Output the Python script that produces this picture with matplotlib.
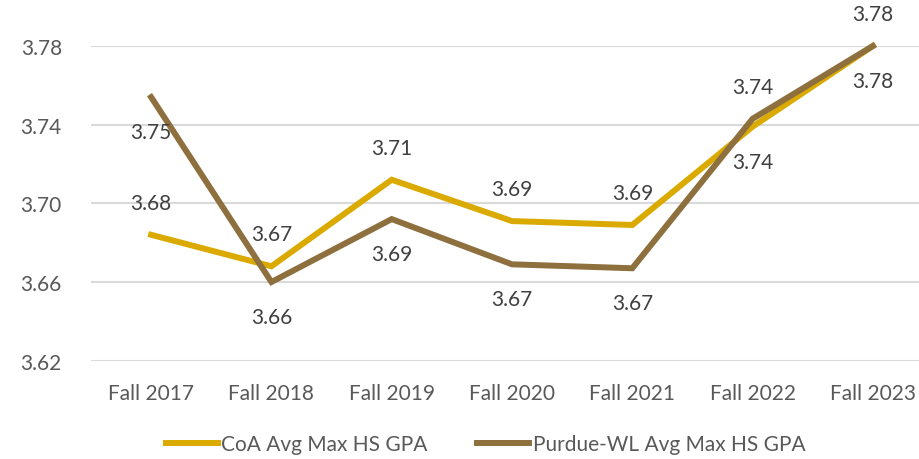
import matplotlib
matplotlib.use("Agg")
import matplotlib.pyplot as plt

categories = ["Fall 2017", "Fall 2018", "Fall 2019", "Fall 2020", "Fall 2021", "Fall 2022", "Fall 2023"]
coa = [3.684, 3.668, 3.712, 3.691, 3.689, 3.739, 3.780]
purdue = [3.754, 3.660, 3.692, 3.669, 3.667, 3.743, 3.780]
yticks = [3.62, 3.66, 3.70, 3.74, 3.78]

# label placement: +1 above, -1 below
coa_pos = [1, 1, 1, 1, 1, -1, -1]
purdue_pos = [-1, -1, -1, -1, -1, 1, 1]

plt.rcParams['font.family'] = ['Lato', 'DejaVu Sans']

W, H = 919, 460
fig = plt.figure(figsize=(W / 100, H / 100), dpi=100)
left = 91 / W
right = 933 / W
bottom = 1 - 361.7 / H
top = 1 - 47 / H
ax = fig.add_axes([left, bottom, right - left, top - bottom])

gold = "#DAAA00"
brown = "#8E6F3E"
x = list(range(len(categories)))
l1, = ax.plot(x, coa, color=gold, lw=4.3, solid_joinstyle='miter', clip_on=False, zorder=3,
              label="CoA Avg Max HS GPA")
l2, = ax.plot(x, purdue, color=brown, lw=4.3, solid_joinstyle='miter', clip_on=False, zorder=4,
              label="Purdue-WL Avg Max HS GPA")

for xs, vals, pos in [(x, coa, coa_pos), (x, purdue, purdue_pos)]:
    for xi, v, p in zip(xs, vals, pos):
        ax.annotate(f"{v:.2f}", (xi, v), xytext=(0, 32 if p > 0 else -35),
                    textcoords='offset pixels', ha='center', va='center',
                    fontsize=15, color="#404040", zorder=5, annotation_clip=False)

ax.set_xlim(-0.5, len(categories) - 0.5)
ax.set_ylim(3.62, 3.78)
ax.set_yticks(yticks)
ax.set_yticklabels([f"{t:.2f}" for t in yticks])
ax.set_xticks(x)
ax.set_xticklabels(categories)
ax.tick_params(axis='both', length=0, labelsize=15, colors="#595959")
ax.tick_params(axis='y', pad=21)
ax.tick_params(axis='x', pad=16)
ax.grid(axis='y', color="#D9D9D9", lw=1.5)
ax.set_axisbelow(True)
for s in ax.spines.values():
    s.set_visible(False)

fig.legend(handles=[l1, l2], loc='center', bbox_to_anchor=(485.5 / W, 1 - 445 / H), ncol=2,
           frameon=False, fontsize=15, handlelength=2.5, handletextpad=0.15, columnspacing=2.4,
           labelcolor="#595959")

fig.savefig("out.png", dpi=100)
